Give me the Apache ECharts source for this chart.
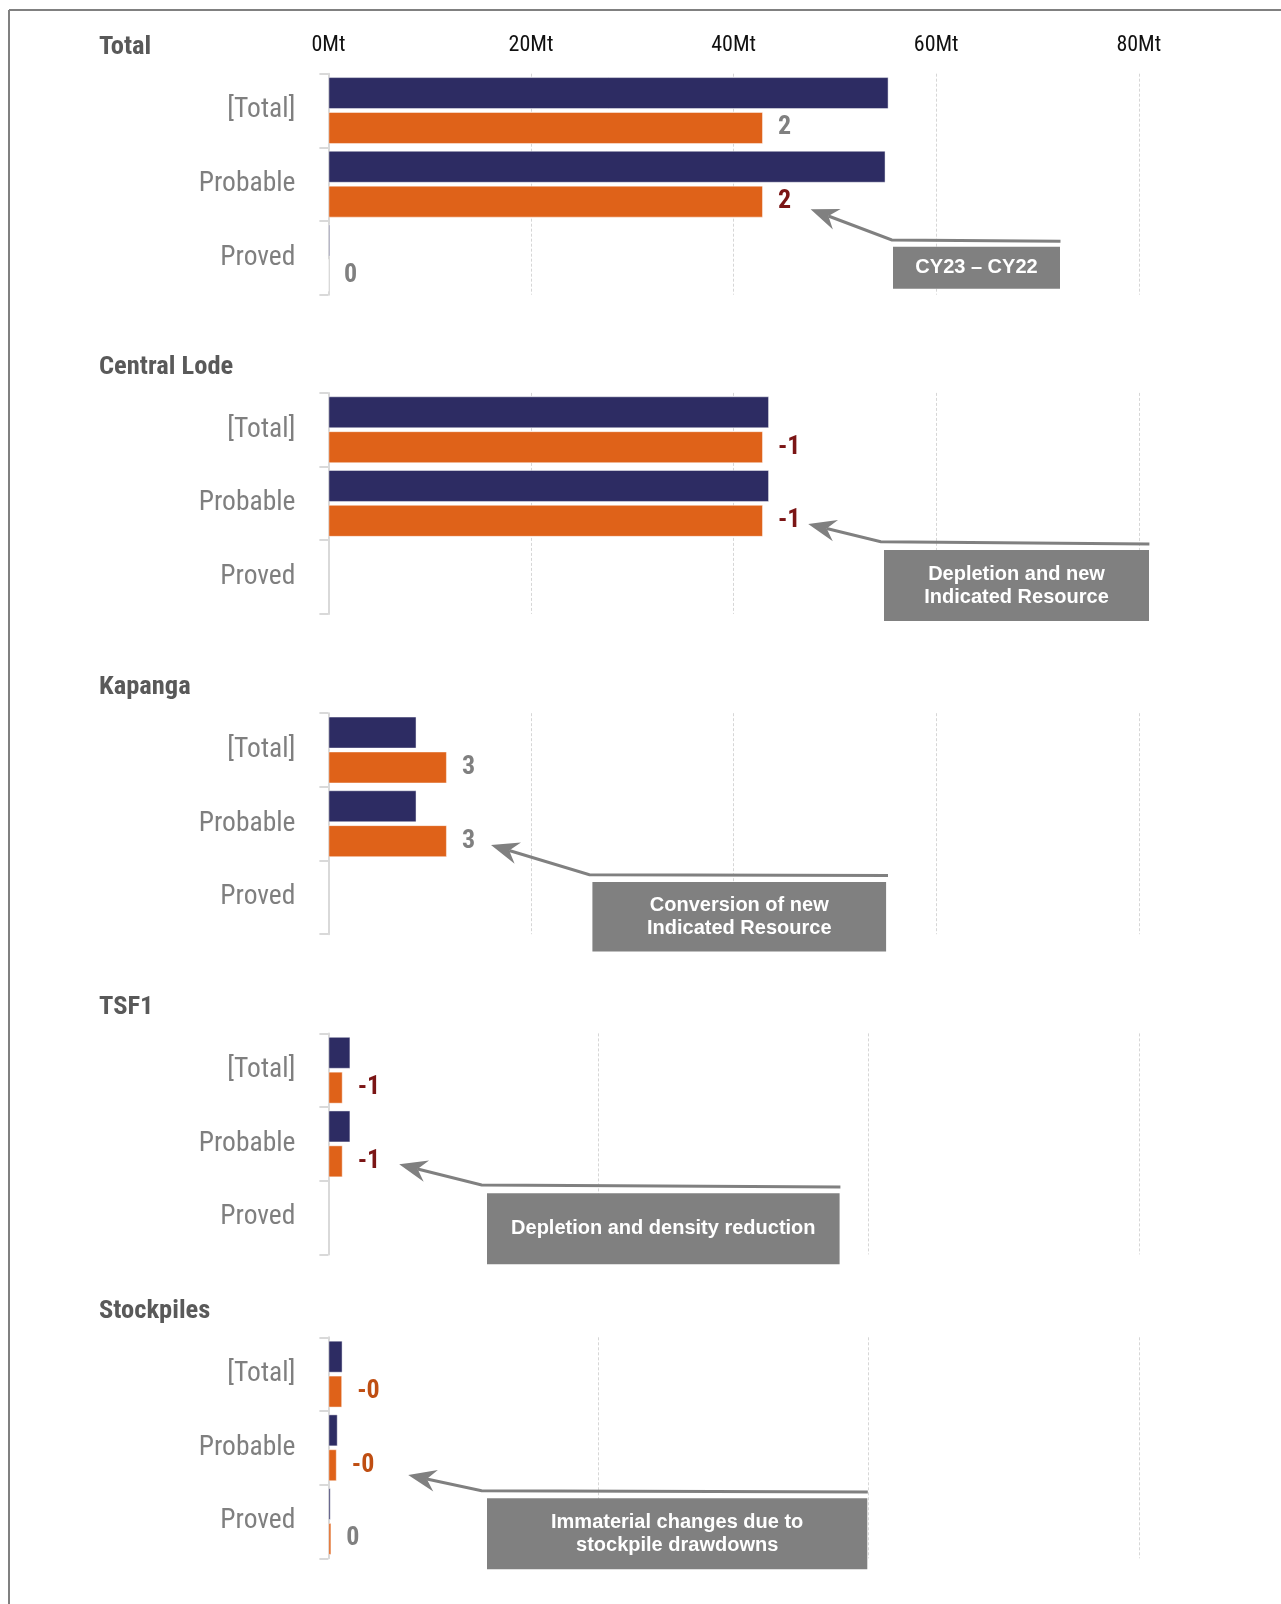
<!DOCTYPE html>
<html>
<head>
<meta charset="utf-8">
<script src="https://cdn.jsdelivr.net/npm/echarts@6/dist/echarts.min.js"></script>
<style>
  html, body { margin: 0; padding: 0; background: #ffffff; }
  #chart { width: 1281px; height: 1604px; }
</style>
</head>
<body>
<div id="chart"></div>
<script>
// ---------------- DATA ----------------
const sections = ['Total', 'Central Lode', 'Kapanga', 'TSF1', 'Stockpiles'];
const categories = ['[Total]', 'Probable', 'Proved'];
const tickLabels = ['0Mt', '20Mt', '40Mt', '60Mt', '80Mt'];
const axisMax = [80, 80, 80, 60, 60];

// CY22 (navy) and CY23 (orange) tonnes, Mt
const cy22Total       = [55.3, 55.0, 0.17];
const cy23Total       = [42.9, 42.9, 0];
const cy22CentralLode = [43.5, 43.5, null];
const cy23CentralLode = [42.9, 42.9, null];
const cy22Kapanga     = [8.7, 8.7, null];
const cy23Kapanga     = [11.7, 11.7, null];
const cy22TSF1        = [1.63, 1.63, null];
const cy23TSF1        = [1.06, 1.06, null];
const cy22Stockpiles  = [1.05, 0.69, 0.17];
const cy23Stockpiles  = [1.02, 0.62, 0.22];

// change labels (CY23 – CY22) shown beside the orange bars
const changeTotal       = ['2', '2', '0'];
const changeCentralLode = ['-1', '-1', null];
const changeKapanga     = ['3', '3', null];
const changeTSF1        = ['-1', '-1', null];
const changeStockpiles  = ['-0', '-0', '0'];

// label colour kind: g = grey, r = dark red, o = dark orange
const kindTotal       = ['g', 'r', 'g'];
const kindCentralLode = ['r', 'r', null];
const kindKapanga     = ['g', 'g', null];
const kindTSF1        = ['r', 'r', null];
const kindStockpiles  = ['o', 'o', 'g'];

const notes = [
  'CY23 – CY22',
  'Depletion and new\nIndicated Resource',
  'Conversion of new\nIndicated Resource',
  'Depletion and density reduction',
  'Immaterial changes due to\nstockpile drawdowns'
];

// ---------------- FONTS ----------------
const ctx = document.createElement('canvas').getContext('2d');
function hasFont(f) {
  const s = 'ProbableMWil0123';
  for (const fb of ['monospace', 'serif']) {
    ctx.font = '40px ' + fb;
    const w0 = ctx.measureText(s).width;
    ctx.font = "40px '" + f + "', " + fb;
    if (Math.abs(ctx.measureText(s).width - w0) > 0.5) return true;
  }
  return false;
}
const narrowCandidates = ['Liberation Sans Narrow', 'Arial Narrow', 'Roboto Condensed',
  'Noto Sans ExtraCondensed', 'Noto Sans Condensed', 'Open Sans Condensed', 'DejaVu Sans Condensed'];
const narrowName = narrowCandidates.find(hasFont) || 'Liberation Sans';
const NARROW = "'" + narrowName + "', sans-serif";
const SANS = "'Liberation Sans', Arial, sans-serif";
function fitSize(weight, text, target, nominal) {
  ctx.font = weight + ' ' + nominal + 'px ' + NARROW;
  const w = ctx.measureText(text).width;
  return Math.min(nominal, Math.round(nominal * target / w * 2) / 2);
}
const catSize = fitSize('normal', 'Probable', 97, 30);
const tickSize = fitSize('normal', '20Mt', 45, 24);
const titleSize = fitSize('bold', 'Central Lode', 135, 27);
const valSize = 26;

// ---------------- STYLE / LAYOUT ----------------
const NAVY = '#2D2C63';
const ORANGE = '#DF6219';
const labelColors = { g: '#808080', r: '#7B1515', o: '#BF4E12' };

const cy22 = [cy22Total, cy22CentralLode, cy22Kapanga, cy22TSF1, cy22Stockpiles];
const cy23 = [cy23Total, cy23CentralLode, cy23Kapanga, cy23TSF1, cy23Stockpiles];
const changes = [changeTotal, changeCentralLode, changeKapanga, changeTSF1, changeStockpiles];
const kinds = [kindTotal, kindCentralLode, kindKapanga, kindTSF1, kindStockpiles];

const gridTops = [73.7, 392.9, 713.2, 1033.4, 1337.3];
const gridH = 221;
const gridLeft = 328.4;
const gridRight = 142.2;

// annotation geometry (layout only)
const annos = [
  { box: [893, 246.7, 167, 42], line: [[1060.5, 241.3], [891.8, 240]], tip: [810.6, 209.3] },
  { box: [884, 550, 265, 71], line: [[1149.4, 544], [880.8, 541.7]], tip: [808.2, 524] },
  { box: [592.4, 882, 293.7, 69.6], line: [[888, 875.5], [589.4, 874.8]], tip: [491, 845] },
  { box: [487, 1193.3, 352.6, 71], line: [[840.4, 1187], [481.6, 1185]], tip: [399.2, 1164.3] },
  { box: [487, 1498.3, 380.3, 71], line: [[867.8, 1492], [481.6, 1490.7]], tip: [408.2, 1475] }
];

const grids = [], xAxes = [], yAxes = [], series = [], graphics = [];

sections.forEach((name, i) => {
  grids.push({ left: gridLeft, right: gridRight, top: gridTops[i], height: gridH });
  xAxes.push({
    type: 'value', gridIndex: i, min: 0, max: axisMax[i], interval: 20,
    position: 'top',
    axisLine: { show: false }, axisTick: { show: false },
    axisLabel: {
      show: i === 0, margin: 17, color: '#111111', fontSize: tickSize, fontFamily: NARROW,
      formatter: v => tickLabels[v / 20]
    },
    splitLine: { show: true, lineStyle: { color: '#d6d6d6', width: 1, type: [3, 2] } }
  });
  yAxes.push({
    type: 'category', gridIndex: i, data: categories, inverse: true,
    axisLine: { show: true, lineStyle: { color: '#d9d9d9', width: 2 } },
    axisTick: { show: true, length: 9, lineStyle: { color: '#d9d9d9', width: 2 } },
    axisLabel: { margin: 33, color: '#7f7f7f', fontSize: catSize, fontFamily: NARROW }
  });
  series.push({
    type: 'bar', name: 'CY22', xAxisIndex: i, yAxisIndex: i,
    barWidth: 32, barGap: '9%',
    itemStyle: { color: NAVY, borderColor: 'rgba(255,255,255,0.45)', borderWidth: 1 },
    data: cy22[i].map(v => (v === null ? '-' : v)),
    silent: true, animation: false
  });
  series.push({
    type: 'bar', name: 'CY23', xAxisIndex: i, yAxisIndex: i,
    barWidth: 32, barGap: '9%',
    itemStyle: { color: ORANGE, borderColor: 'rgba(255,255,255,0.45)', borderWidth: 1 },
    data: cy23[i].map((v, j) => {
      const txt = changes[i][j];
      return {
        value: v === null ? '-' : v,
        label: txt === null ? { show: false } : {
          show: true, position: 'right', distance: 15,
          formatter: txt, color: labelColors[kinds[i][j]],
          fontSize: valSize, fontWeight: 'bold', fontFamily: NARROW
        }
      };
    }),
    silent: true, animation: false
  });
  // section title
  graphics.push({
    type: 'text', x: 99, y: gridTops[i] - 26, z: 100,
    style: { text: name, fill: '#595959', font: 'bold ' + titleSize + 'px ' + NARROW, verticalAlign: 'middle' }
  });
});

// annotations (drawn above the gridlines)
annos.forEach((a, i) => {
  const [bx, by, bw, bh] = a.box;
  graphics.push({ type: 'rect', z: 100, shape: { x: bx, y: by, width: bw, height: bh }, style: { fill: '#808080' } });
  graphics.push({
    type: 'text', x: bx + bw / 2, y: by + bh / 2, z: 101,
    style: {
      text: notes[i], fill: '#ffffff', font: 'bold 20px ' + SANS,
      align: 'center', verticalAlign: 'middle', lineHeight: 23
    }
  });
  const p0 = a.line[1], tip = a.tip;
  const dx = tip[0] - p0[0], dy = tip[1] - p0[1];
  const len = Math.hypot(dx, dy), ux = dx / len, uy = dy / len;
  const nx = -uy, ny = ux;
  const L = 28, N = 19, W = 11;
  const base = [tip[0] - ux * L, tip[1] - uy * L];
  const notch = [tip[0] - ux * N, tip[1] - uy * N];
  graphics.push({
    type: 'polyline', z: 100,
    shape: { points: [a.line[0], a.line[1], notch] },
    style: { stroke: '#808080', lineWidth: 3, fill: null }
  });
  graphics.push({
    type: 'polygon', z: 100,
    shape: { points: [tip, [base[0] + nx * W, base[1] + ny * W], notch, [base[0] - nx * W, base[1] - ny * W]] },
    style: { fill: '#808080' }
  });
});

// frame lines
graphics.push({ type: 'line', z: 100, shape: { x1: 9, y1: 10, x2: 1281, y2: 10 }, style: { stroke: '#808080', lineWidth: 2 } });
graphics.push({ type: 'line', z: 100, shape: { x1: 9, y1: 10, x2: 9, y2: 1604 }, style: { stroke: '#808080', lineWidth: 2 } });

const chart = echarts.init(document.getElementById('chart'), null, { renderer: 'canvas' });
chart.setOption({
  animation: false,
  backgroundColor: '#ffffff',
  grid: grids, xAxis: xAxes, yAxis: yAxes, series: series,
  graphic: graphics
});
</script>
</body>
</html>
